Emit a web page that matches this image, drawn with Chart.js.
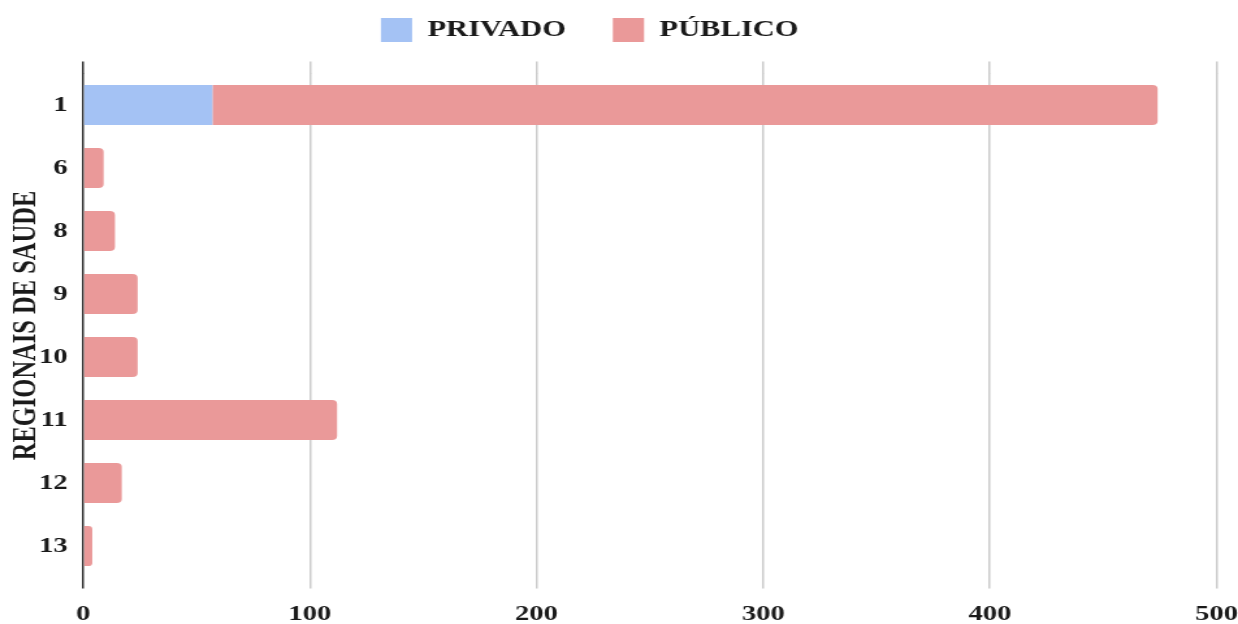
<!DOCTYPE html>
<html>
<head>
<meta charset="utf-8">
<script src="https://cdn.jsdelivr.net/npm/chart.js@4.4.1/dist/chart.umd.min.js"></script>
<style>
  html, body { margin: 0; padding: 0; background: #fff; overflow: hidden; }
  #wrap { width: 952px; height: 624px; transform: scaleX(1.30042); transform-origin: 0 0; }
</style>
</head>
<body>
<div id="wrap"><canvas id="c" width="952" height="624"></canvas></div>
<script>
const categories = ['1', '6', '8', '9', '10', '11', '12', '13'];
const privado = [57, 0, 0, 0, 0, 0, 0, 0];
const publico = [417, 9, 14, 24, 24, 112, 17, 4];
const seriesNames = ['PRIVADO', 'PÚBLICO'];
const xTicks = [0, 100, 200, 300, 400, 500];
const axisTitle = 'REGIONAIS DE SAUDE';

const FONT = "'Liberation Serif', 'Times New Roman', serif";
const gridColor = (ctx) => (ctx.tick && ctx.tick.value === 0) ? '#333333' : '#cccccc';

const legendShift = {
  id: 'legendShift',
  afterLayout(chart) {
    const l = chart.legend;
    if (!l) return;
    l.left -= 45;
    l.top -= 9.5;
    l.bottom -= 9.5;
  }
};

new Chart(document.getElementById('c'), {
  type: 'bar',
  data: {
    labels: categories,
    datasets: [
      { label: seriesNames[0], data: privado, backgroundColor: '#a4c2f4', borderWidth: 0, borderRadius: 0 },
      { label: seriesNames[1], data: publico, backgroundColor: '#ea9999', borderWidth: 0, borderRadius: 4, borderSkipped: 'start' }
    ]
  },
  options: {
    indexAxis: 'y',
    responsive: false,
    animation: false,
    devicePixelRatio: 1,
    barPercentage: 0.635,
    categoryPercentage: 1,
    layout: { padding: { top: -8.5, bottom: -1.5, left: 0, right: 0 } },
    plugins: {
      tooltip: { enabled: false },
      legend: {
        position: 'top',
        align: 'center',
        labels: {
          boxWidth: 24,
          boxHeight: 24,
          padding: 36,
          color: '#1a1a1a',
          font: { family: FONT, size: 23.5, weight: 'bold', lineHeight: 1 }
        }
      }
    },
    scales: {
      x: {
        type: 'linear',
        position: 'bottom',
        stacked: true,
        min: xTicks[0],
        max: xTicks[xTicks.length - 1],
        afterBuildTicks: (s) => { s.ticks = xTicks.map(v => ({ value: v })); },
        afterFit: (s) => { s.height = 48; s.paddingRight = 16.5; },
        border: { display: false },
        grid: { color: gridColor, lineWidth: 1.5, drawTicks: true, tickLength: 11 },
        ticks: {
          padding: 15,
          color: '#1a1a1a',
          font: { family: FONT, size: 22, weight: 'bold', lineHeight: 1 }
        }
      },
      x2: {
        type: 'linear',
        position: 'top',
        min: xTicks[0],
        max: xTicks[xTicks.length - 1],
        afterBuildTicks: (s) => { s.ticks = xTicks.map(v => ({ value: v })); },
        border: { display: false },
        grid: { color: gridColor, lineWidth: 1.5, drawOnChartArea: false, drawTicks: true, tickLength: 12 },
        ticks: { display: false }
      },
      y: {
        type: 'category',
        stacked: true,
        border: { display: false },
        grid: { display: false, drawTicks: false },
        afterFit: (s) => { s.width = 64; },
        ticks: {
          padding: 12,
          color: '#1a1a1a',
          font: { family: FONT, size: 22, weight: 'bold', lineHeight: 1 }
        },
        title: {
          display: true,
          text: axisTitle,
          color: '#1a1a1a',
          padding: { top: 8.5, bottom: 0 },
          font: { family: FONT, size: 24.5, weight: 'bold', lineHeight: 1 }
        }
      }
    }
  },
  plugins: [legendShift]
});
</script>
</body>
</html>
